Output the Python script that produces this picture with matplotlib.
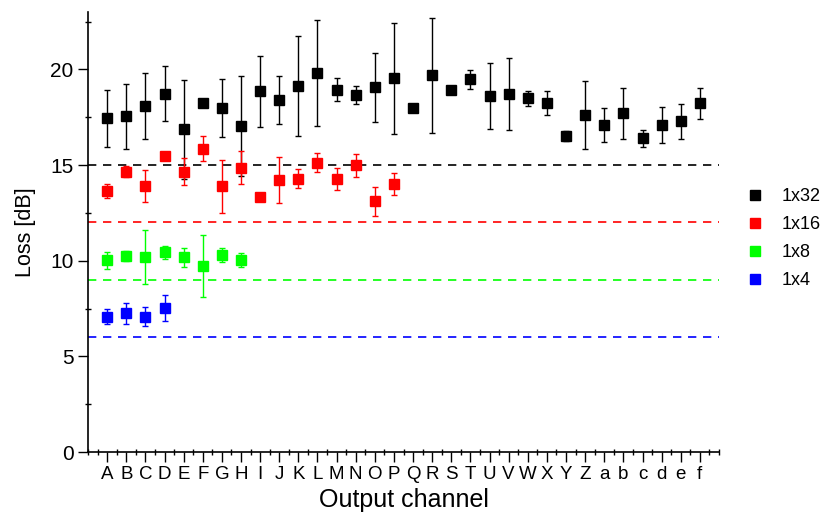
import numpy as np
import matplotlib
matplotlib.use("Agg")
import matplotlib.pyplot as plt
from matplotlib.ticker import MultipleLocator

plt.rcParams['font.family'] = ['Liberation Sans', 'DejaVu Sans']

# channel labels
channels = list("ABCDEFGHIJKLMNOPQRSTUVWXYZ") + list("abcdef")

# 1x32 splitter, loss and error
loss_32 = [17.45, 17.55, 18.08, 18.72, 16.87, 18.25, 17.99, 17.05, 18.85, 18.41,
           19.13, 19.79, 18.95, 18.66, 19.06, 19.53, 17.97, 19.69, 18.92, 19.48,
           18.59, 18.72, 18.48, 18.25, 16.51, 17.64, 17.10, 17.70, 16.39, 17.10,
           17.28, 18.22]
err_32 = [1.5, 1.7, 1.72, 1.44, 2.6, 0.2, 1.53, 2.6, 1.85, 1.25,
          2.6, 2.77, 0.6, 0.45, 1.8, 2.9, 0.0, 3.0, 0.0, 0.5,
          1.72, 1.9, 0.38, 0.64, 0.26, 1.78, 0.87, 1.35, 0.46, 0.96,
          0.92, 0.8]

# 1x16 splitter
loss_16 = [13.63, 14.64, 13.91, 15.45, 14.66, 15.86, 13.89, 14.85, 13.32, 14.22,
           14.29, 15.13, 14.26, 14.99, 13.10, 14.01]
err_16 = [0.37, 0.29, 0.85, 0.1, 0.7, 0.67, 1.37, 0.86, 0.0, 1.2,
          0.5, 0.49, 0.58, 0.59, 0.75, 0.58]

# 1x8 splitter
loss_8 = [10.02, 10.24, 10.21, 10.44, 10.17, 9.72, 10.28, 10.02]
err_8 = [0.45, 0.25, 1.42, 0.35, 0.48, 1.62, 0.37, 0.37]

# 1x4 splitter
loss_4 = [7.08, 7.26, 7.08, 7.52]
err_4 = [0.37, 0.55, 0.48, 0.67]

# ideal splitting loss (10*log10(N))
ideal = [15, 12, 9, 6]

series = [("1x32", loss_32, err_32, "black"),
          ("1x16", loss_16, err_16, "#ff0000"),
          ("1x8", loss_8, err_8, "#00ff00"),
          ("1x4", loss_4, err_4, "#0000ff")]

fig = plt.figure(figsize=(8.25, 5.14), dpi=100)
ax = fig.add_axes([0.1067, 0.1206, 0.7648, 0.856])

for (name, y, e, c), lvl in zip(series, ideal):
    x = np.arange(1, len(y) + 1)
    ax.errorbar(x, y, yerr=e, fmt='s', color=c, ecolor=c, ms=7, elinewidth=1,
                capsize=2, capthick=1, label=name, zorder=3)
    ax.axhline(lvl, color=c, ls=(0, (5, 4)), lw=1.2, zorder=2)

ax.set_xlim(0, 33)
ax.set_ylim(0, 23)
ax.set_xticks(np.arange(1, len(channels) + 1))
ax.set_xticklabels(channels)
ax.xaxis.set_minor_locator(MultipleLocator(0.5))
ax.yaxis.set_major_locator(MultipleLocator(5))
ax.yaxis.set_minor_locator(MultipleLocator(2.5))
ax.tick_params(axis='both', which='major', direction='out', length=7, width=1, labelsize=15)
ax.tick_params(axis='x', which='major', labelsize=13.5, pad=3)
ax.tick_params(axis='both', which='minor', direction='inout', length=5, width=1)

for s in ['top', 'right']:
    ax.spines[s].set_visible(False)
for s in ['left', 'bottom']:
    ax.spines[s].set_linewidth(1.2)

ax.set_xlabel("Output channel", fontsize=18, labelpad=4)
ax.set_ylabel("Loss [dB]", fontsize=15.5, labelpad=10)

handles, labels = ax.get_legend_handles_labels()
handles = [h[0] for h in handles]
ax.legend(handles, labels, loc='center left', bbox_to_anchor=(1.01, 0.485),
          frameon=False, fontsize=13, handletextpad=0.7, labelspacing=0.6,
          handlelength=1.5)

fig.savefig("out.png", dpi=100)
